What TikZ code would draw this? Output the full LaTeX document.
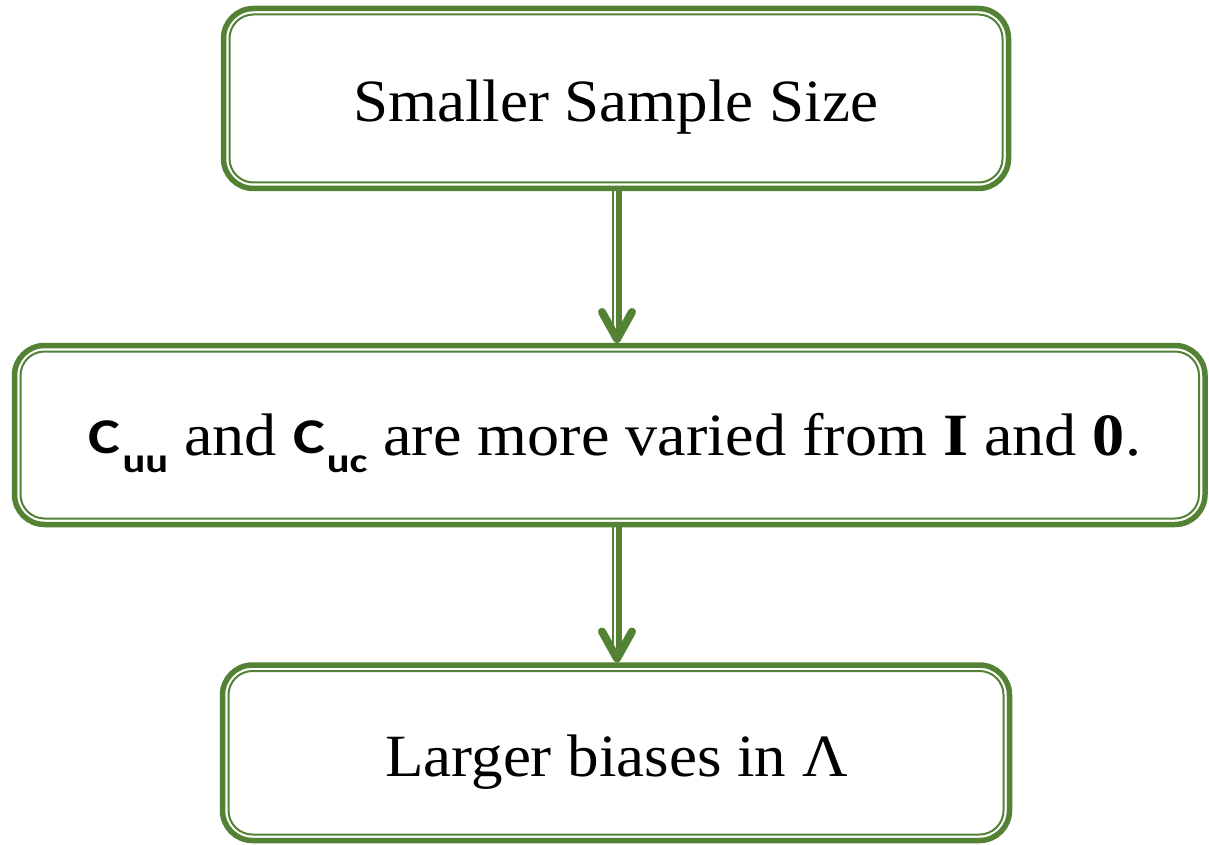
\documentclass[tikz,border=0pt]{standalone}
\usepackage{fontspec}
\usetikzlibrary{calc}
\setmainfont{Liberation Serif}
\newfontfamily\calfont{Carlito}
\definecolor{framegreen}{RGB}{84,130,53}
% bold sans matrix symbol with a lowered sans subscript
\newcommand{\matsym}[2]{{\calfont\bfseries
  \raisebox{2pt}{\scalebox{1.2}[1]{\fontsize{50}{50}\selectfont #1}}\kern2pt
  \raisebox{-17pt}{\scalebox{1.25}[1]{\fontsize{34}{34}\selectfont #2}}}}
\newcommand{\wide}[1]{\scalebox{1.05}[1]{#1}}
\newcommand{\wider}[1]{\scalebox{1.07}[1]{#1}}
\tikzset{
  box/.style={draw=framegreen, line width=5.5pt, rounded corners=30pt,
    inner sep=0pt, outer sep=0pt, fill=white},
  innerframe/.style={draw=framegreen, line width=2pt, rounded corners=24pt},
  label/.style={anchor=base, inner sep=0pt, font=\fontsize{60}{70}\selectfont},
  shaftthick/.style={draw=framegreen, line width=5.5pt},
  shaftthin/.style={draw=framegreen, line width=2pt},
  barb/.style={draw=framegreen, line width=8pt, line cap=round, line join=round}
}
\newcommand{\innerbox}[1]{%
  \draw[innerframe] ([shift={(6pt,-6pt)}]#1.north west) rectangle ([shift={(-6pt,6pt)}]#1.south east);}
\begin{document}
\begin{tikzpicture}[x=1pt,y=-1pt]
\useasboundingbox (0,0) rectangle (1209,845);

% the three boxes, each with a thick outer and a thin inner frame
\node[box, minimum width=785pt, minimum height=180pt] (b1) at (616,98.5) {};
\innerbox{b1}
\node[box, minimum width=1190.5pt, minimum height=179pt] (b2) at (609.75,435) {};
\innerbox{b2}
\node[box, minimum width=787pt, minimum height=175.5pt] (b3) at (616,752.75) {};
\innerbox{b3}

% texts
\node[label] (t1) at (615.5,122) {\wide{Smaller Sample Size}};
\node[label] (t2) at (615,455) {\matsym{C}{uu}\wider{ and }\matsym{C}{uc}\wider{ are more varied from \textbf{I} and \textbf{0}.}};
\node[label] (t3) at (616.5,776) {\wide{Larger biases in Λ}};

% arrows: double shaft with an open barbed head
\foreach \from/\to [count=\i] in {b1/b2, b2/b3} {
  \coordinate (tip\i) at ($([xshift=1pt]b1.south |- \to.north)+(0pt,6.5pt)$);
  \draw[shaftthick, shorten >=8pt] ([xshift=3pt]b1.south |- \from.south) -- ([xshift=3pt]b1.south |- \to.north);
  \draw[shaftthin, shorten >=12pt] ([xshift=-3.3pt]b1.south |- \from.south) -- ([xshift=-3.3pt]b1.south |- \to.north);
  \draw[barb] ([shift={(-15pt,27pt)}]tip\i) -- (tip\i) -- ([shift={(15pt,27pt)}]tip\i);
}
\end{tikzpicture}
\end{document}
